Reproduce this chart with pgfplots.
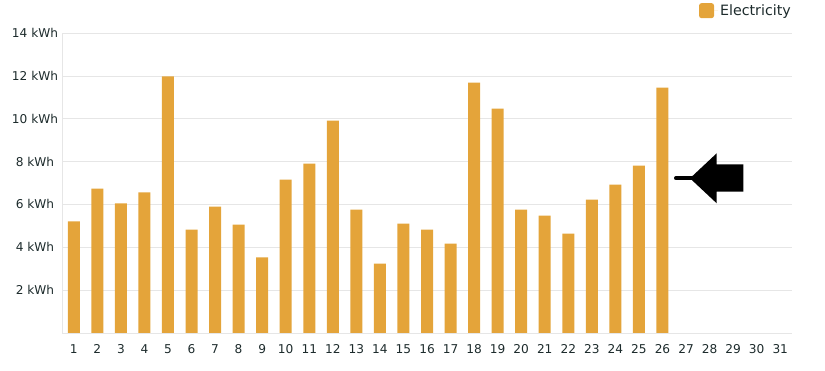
\documentclass[border=0pt]{standalone}
\usepackage{pgfplots}
\pgfplotsset{compat=1.18}
\usepackage{fontspec}
\setmainfont{DejaVu Sans}
\definecolor{barc}{HTML}{E4A43A}
\definecolor{gridc}{HTML}{E6E6E6}
\definecolor{txt}{HTML}{1D2B2C}
\begin{document}
\begin{tikzpicture}
\path[use as bounding box] (0,0) rectangle (825bp,371bp);
\begin{axis}[
  at={(62bp,38bp)}, anchor=south west,
  width=730bp, height=300bp, scale only axis,
  xmin=0.5, xmax=31.5, ymin=0, ymax=14,
  axis x line*=bottom, axis y line*=left,
  axis line style={gridc, line width=0.8pt},
  major tick length=0pt,
  xtick={1,...,31},
  xticklabels={1,2,3,4,5,6,7,8,9,10,11,12,13,14,15,16,17,18,19,20,21,22,23,24,25,26,27,28,29,30,31},
  ytick={2,4,6,8,10,12,14},
  yticklabels={2 kWh,4 kWh,6 kWh,8 kWh,10 kWh,12 kWh,14 kWh},
  /pgf/number format/assume math mode=true,
  ymajorgrids, grid style={gridc, line width=0.6pt},
  tick label style={font=\fontsize{12.2}{14}\selectfont, text=txt},
  yticklabel style={anchor=center, xshift=-27bp},
  xticklabel style={anchor=center, yshift=-16bp},
  ybar, bar width=12bp,
  legend style={at={(1,1)}, anchor=south east, yshift=14bp, xshift=1bp, draw=none, fill=none,
    font=\fontsize{14.3}{16}\selectfont, text=txt, inner sep=0pt},
  legend image code/.code={\fill[barc, rounded corners=2.5bp] (0bp,-7.5bp) rectangle (15bp,7.5bp); \path (0bp,0bp) -- (19bp,0bp);},
]
\addplot[fill=barc, draw=none] coordinates {
(1,5.21) (2,6.74) (3,6.05) (4,6.56) (5,11.98) (6,4.82) (7,5.90) (8,5.06) (9,3.53) (10,7.16)
(11,7.90) (12,9.91) (13,5.76) (14,3.24) (15,5.10) (16,4.82) (17,4.17) (18,11.68) (19,10.47) (20,5.76)
(21,5.48) (22,4.64) (23,6.22) (24,6.92) (25,7.81) (26,11.45)
};
\addlegendentry{Electricity}
\end{axis}
\begin{scope}[x=1bp,y=1bp]
\draw[black, line width=4bp, line cap=round] (676,192.7) -- (692,192.7);
\fill[black] (690,192.7) -- (716.7,217.7) -- (716.7,206.7) -- (743.3,206.7) -- (743.3,179.3) -- (716.7,179.3) -- (716.7,167.7) -- cycle;
\end{scope}
\end{tikzpicture}
\end{document}
